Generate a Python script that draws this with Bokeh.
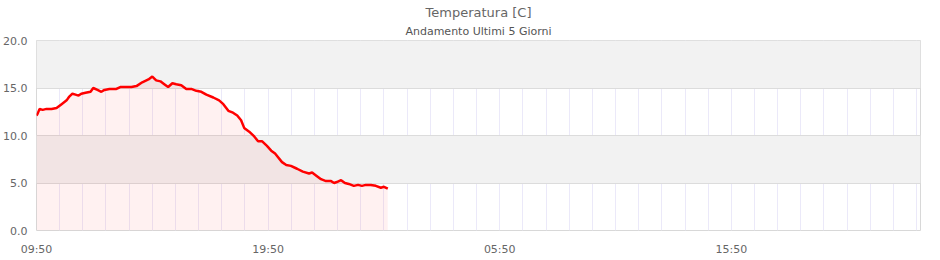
import pandas as pd
from bokeh.plotting import figure
from bokeh.models import (FixedTicker, DatetimeTickFormatter, Title, Range1d,
                          ColumnDataSource, PrintfTickFormatter)
from bokeh.embed import file_html
from bokeh.resources import INLINE

# ---- data ----
times = [
    "2024-01-01 09:50", "2024-01-01 09:53", "2024-01-01 09:58", "2024-01-01 10:06", "2024-01-01 10:16",
    "2024-01-01 10:29", "2024-01-01 10:42", "2024-01-01 10:55", "2024-01-01 11:08", "2024-01-01 11:15",
    "2024-01-01 11:23", "2024-01-01 11:31", "2024-01-01 11:39", "2024-01-01 11:46", "2024-01-01 11:57",
    "2024-01-01 12:10", "2024-01-01 12:17", "2024-01-01 12:28", "2024-01-01 12:38", "2024-01-01 12:46",
    "2024-01-01 12:59", "2024-01-01 13:17", "2024-01-01 13:27", "2024-01-01 13:40", "2024-01-01 13:56",
    "2024-01-01 14:09", "2024-01-01 14:24", "2024-01-01 14:40", "2024-01-01 14:50", "2024-01-01 15:00",
    "2024-01-01 15:11", "2024-01-01 15:21", "2024-01-01 15:31", "2024-01-01 15:42", "2024-01-01 15:52",
    "2024-01-01 16:05", "2024-01-01 16:18", "2024-01-01 16:31", "2024-01-01 16:44", "2024-01-01 16:57",
    "2024-01-01 17:10", "2024-01-01 17:28", "2024-01-01 17:43", "2024-01-01 17:54", "2024-01-01 18:07",
    "2024-01-01 18:19", "2024-01-01 18:30", "2024-01-01 18:40", "2024-01-01 18:48", "2024-01-01 19:01",
    "2024-01-01 19:14", "2024-01-01 19:24", "2024-01-01 19:34", "2024-01-01 19:47", "2024-01-01 19:58",
    "2024-01-01 20:08", "2024-01-01 20:26", "2024-01-01 20:37", "2024-01-01 20:49", "2024-01-01 21:05",
    "2024-01-01 21:20", "2024-01-01 21:36", "2024-01-01 21:44", "2024-01-01 21:54", "2024-01-01 22:07",
    "2024-01-01 22:20", "2024-01-01 22:33", "2024-01-01 22:41", "2024-01-01 22:48", "2024-01-01 22:59",
    "2024-01-01 23:09", "2024-01-01 23:19", "2024-01-01 23:32", "2024-01-01 23:43", "2024-01-01 23:53",
    "2024-01-02 00:03", "2024-01-02 00:16", "2024-01-02 00:29", "2024-01-02 00:42", "2024-01-02 00:50",
    "2024-01-02 01:00",
]
temps = [
    12.1, 12.3, 12.8, 12.7, 12.8,
    12.8, 12.9, 13.3, 13.7, 14.1,
    14.4, 14.3, 14.2, 14.4, 14.5,
    14.6, 15.0, 14.8, 14.6, 14.8,
    14.9, 14.9, 15.1, 15.1, 15.1,
    15.2, 15.6, 15.9, 16.2, 15.8,
    15.7, 15.4, 15.1, 15.5, 15.4,
    15.3, 14.9, 14.9, 14.7, 14.6,
    14.3, 14.0, 13.7, 13.3, 12.6,
    12.4, 12.1, 11.6, 10.8, 10.4,
    9.9, 9.4, 9.4, 8.9, 8.4,
    8.1, 7.2, 6.9, 6.8, 6.5,
    6.2, 6.0, 6.1, 5.8, 5.4,
    5.2, 5.2, 5.0, 5.1, 5.3,
    5.0, 4.9, 4.7, 4.8, 4.7,
    4.8, 4.8, 4.7, 4.5, 4.6,
    4.4,
]
x_start = "2024-01-01 09:50"
x_end = "2024-01-03 00:00"
y_ticks = [0, 5, 10, 15, 20]
title_text = "Temperatura [C]"
subtitle_text = "Andamento Ultimi 5 Giorni"

FONT = "DejaVu Sans"

src = ColumnDataSource(dict(t=pd.to_datetime(times), v=temps))
t0 = pd.Timestamp(x_start)
t1 = pd.Timestamp(x_end)

p = figure(width=940, height=260, x_axis_type="datetime", output_backend="svg",
           toolbar_location=None, x_range=Range1d(t0, t1), y_range=Range1d(0, 20),
           min_border_left=35, min_border_right=20, min_border_top=40, min_border_bottom=30)
p.background_fill_color = "white"
p.border_fill_color = "white"
p.outline_line_color = "#d8d8d8"
p.outline_line_width = 1

# titles (first added is closest to plot)
p.add_layout(Title(text=subtitle_text, align="center", text_font=FONT, text_font_size="11px",
                   text_font_style="normal", text_color="#555555", standoff=6, offset=0,
                   text_line_height=0.8), "above")
p.add_layout(Title(text=title_text, align="center", text_font=FONT, text_font_size="13px",
                   text_font_style="normal", text_color="#666666", standoff=0, offset=0,
                   text_line_height=0.8), "above")

# area + line
p.varea(x="t", y1=0, y2="v", source=src, fill_color="red", fill_alpha=0.055)
p.line(x="t", y="v", source=src, line_color="red", line_width=2.5)

# axes
major = pd.date_range(t0, t1, freq="10h")
hourly = pd.date_range(t0, t1, freq="1h")
ms = lambda r: [float(v.value / 1e6) for v in r]
p.xaxis.ticker = FixedTicker(ticks=ms(major))
p.xaxis.formatter = DatetimeTickFormatter(hours="%H:%M", minutes="%H:%M", days="%H:%M",
                                          hourmin="%H:%M", minsec="%H:%M")
p.yaxis.ticker = FixedTicker(ticks=y_ticks)
p.yaxis.formatter = PrintfTickFormatter(format="%.1f")

for ax in (p.xaxis[0], p.yaxis[0]):
    ax.axis_line_color = None
    ax.major_tick_line_color = None
    ax.minor_tick_line_color = None
    ax.major_label_text_font = FONT
    ax.major_label_text_font_size = "11px"
    ax.major_label_text_color = "#666666"
p.xaxis.major_label_standoff = 6
p.yaxis.major_label_standoff = 3

p.xgrid.ticker = FixedTicker(ticks=ms(hourly))
p.xgrid.grid_line_color = "#ebe9f9"
p.xgrid.grid_line_width = 1
p.ygrid.grid_line_color = "#dcdcdc"
p.ygrid.band_fill_color = "#f2f2f2"
p.ygrid.band_fill_alpha = 1.0

open("out.html", "w").write(file_html(p, INLINE))
